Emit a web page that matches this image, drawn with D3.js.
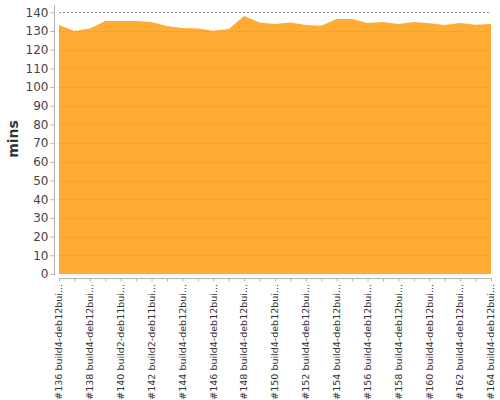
<!DOCTYPE html>
<html>
<head>
<meta charset="utf-8">
<script src="https://cdn.jsdelivr.net/npm/d3@7"></script>
<style>
  html, body { margin: 0; padding: 0; background: #fff; }
  svg { display: block; }
</style>
</head>
<body>
<svg id="chart" width="500" height="400"></svg>
<script>
// Build numbers (one per point)
const builds = [136,137,138,139,140,141,142,143,144,145,146,147,148,149,150,151,152,153,154,155,156,157,158,159,160,161,162,163,164];
// Duration in minutes per build
const minutes = [133.2,130.0,131.3,135.3,135.3,135.3,134.8,132.7,131.6,131.3,130.1,131.1,138.0,134.6,133.7,134.6,133.2,132.8,136.4,136.4,134.3,134.8,133.7,134.8,134.1,133.2,134.3,133.4,133.7];
// Tick labels shown on the x axis (every other build)
const tickBuilds = [136,138,140,142,144,146,148,150,152,154,156,158,160,162,164];
const tickLabels = ["#136 build4-deb12bui...","#138 build4-deb12bui...","#140 build2-deb11bui...","#142 build2-deb11bui...","#144 build4-deb12bui...","#146 build4-deb12bui...","#148 build4-deb12bui...","#150 build4-deb12bui...","#152 build4-deb12bui...","#154 build4-deb12bui...","#156 build4-deb12bui...","#158 build4-deb12bui...","#160 build4-deb12bui...","#162 build4-deb12bui...","#164 build4-deb12bui..."];
const yTicks = [0,10,20,30,40,50,60,70,80,90,100,110,120,130,140];
const yTitle = "mins";

const svg = d3.select("#chart");
const font = "'DejaVu Sans', sans-serif";

const x = d3.scalePoint().domain(builds).range([59, 491]);
const y = d3.scaleLinear().domain([0, 140]).range([274, 12.3]);

// gridlines (under the translucent area)
svg.append("g").selectAll("line").data(yTicks.filter(d => d > 0)).join("line")
  .attr("x1", 59).attr("x2", 491)
  .attr("y1", d => Math.round(y(d)) + 0.5).attr("y2", d => Math.round(y(d)) + 0.5)
  .attr("stroke", "#8c8c8c").attr("stroke-width", 1)
  .attr("stroke-dasharray", "2,2");

// area
const area = d3.area().x((d, i) => x(builds[i])).y0(y(0)).y1(d => y(d));
svg.append("path").datum(minutes)
  .attr("d", area)
  .attr("fill", "rgb(255,157,18)")
  .attr("fill-opacity", 0.85);

// y axis
const yAxis = svg.append("g").attr("transform", "translate(54.5,0)")
  .call(d3.axisLeft(y).tickValues(yTicks).tickSize(4).tickPadding(2));
yAxis.select(".domain").attr("stroke", "#b4b4b4").attr("d", "M0,5V275");
yAxis.selectAll(".tick line").attr("stroke", "#b4b4b4");
yAxis.selectAll("text").attr("fill", "#444").style("font", "12px " + font);

// x axis
const xAxis = svg.append("g").attr("transform", "translate(0,278.5)")
  .call(d3.axisBottom(x).tickSize(3).tickFormat(() => ""));
xAxis.select(".domain").attr("stroke", "#b4b4b4").attr("d", "M59,0H492");
xAxis.selectAll(".tick line").attr("stroke", "#b4b4b4");

// rotated x labels
svg.append("g").selectAll("text").data(tickBuilds).join("text")
  .attr("transform", d => `translate(${x(d)},284) rotate(-90)`)
  .attr("text-anchor", "end")
  .attr("dy", "0.35em")
  .attr("fill", "#333")
  .style("font", "9.5px " + font)
  .text((d, i) => tickLabels[i]);

// y title
svg.append("text")
  .attr("transform", "translate(13,139) rotate(-90)")
  .attr("text-anchor", "middle")
  .attr("dy", "0.35em")
  .attr("fill", "#333")
  .style("font", "bold 14px " + font)
  .text(yTitle);
</script>
</body>
</html>
